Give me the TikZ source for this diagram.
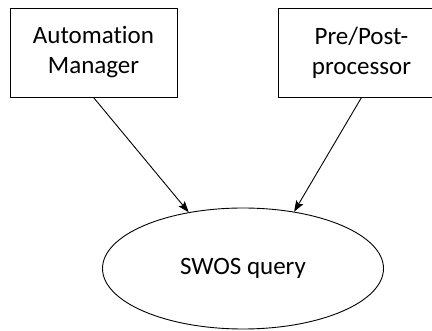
\documentclass[tikz,border=0pt]{standalone}
\usepackage{fontspec}
\setmainfont{Carlito}[Ligatures=NoCommon]
\usetikzlibrary{arrows.meta,shapes.geometric}
\begin{document}
\begin{tikzpicture}[x=1pt,y=-1pt,
  box/.style={draw=black,line width=0.9pt,minimum width=167pt,minimum height=89pt,inner sep=0pt,align=center,font=\fontsize{25}{30}\selectfont},
  oval/.style={draw=black,line width=0.9pt,ellipse,minimum width=281pt,minimum height=121pt,inner sep=0pt,font=\fontsize{25}{30}\selectfont},
  conn/.style={line width=0.9pt,-{Stealth[length=11pt,width=8pt,inset=2pt]}}]
\useasboundingbox (0,0) rectangle (432,331);
\clip (0,0) rectangle (432,331);
\node[box] (am) at (93.5,52.5) {Automation\\Manager};
\node[box] (pp) at (361.5,52.5) {Pre/Post-\\processor};
\node[oval] (sq) at (243,268.5) {SWOS query};
\draw[conn] (am.south) -- (sq.134);
\draw[conn] (pp.south) -- (sq.48);
\end{tikzpicture}
\end{document}
